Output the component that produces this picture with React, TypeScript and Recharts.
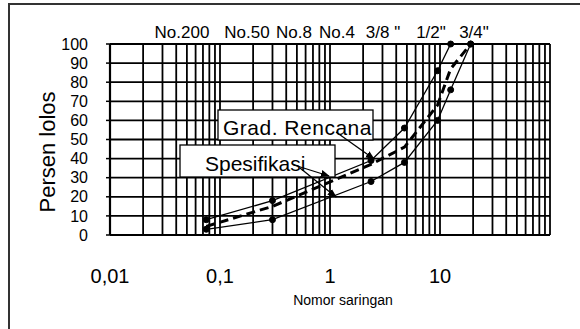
import { LineChart, Line, XAxis, YAxis, CartesianGrid } from 'recharts';

// sieve opening (mm) on a log axis
const sieveSize = [0.075, 0.3, 2.36, 4.75, 9.5, 12.5, 19];
const specUpper = [8, 18, 39, 56, 86, 100, 100];
const specLower = [3, 8, 28, 38, 60, 76, 100];
const gradRencana = [4.5, 15, 37, 46, 68, 87, 100];

const xTicks = [0.01, 0.1, 1, 10];
const yTicks = [0, 10, 20, 30, 40, 50, 60, 70, 80, 90, 100];
const sieveLabels = ['No.200', 'No.50', 'No.8', 'No.4', '3/8 "', '1/2"', '3/4"'];

// minor log grid: 1..9 in every decade, plus the last one
const gridX: number[] = [];
[0.01, 0.1, 1, 10].forEach((d) => {
  for (let k = 1; k <= 9; k++) gridX.push(+(d * k).toPrecision(3));
});
gridX.push(100);

const data = sieveSize.map((s, i) => ({
  size: s,
  upper: specUpper[i],
  lower: specLower[i],
  plan: gradRencana[i],
}));

const font = '"Liberation Sans", Arial, sans-serif';
const sieveLabelX = [182, 247, 294, 337, 383, 431, 474];

function Overlay() {
  return (
    <svg width={580} height={329} style={{ position: 'absolute', left: 0, top: 0, pointerEvents: 'none' }} fontFamily={font}>
      <defs>
        <marker id="arr" viewBox="0 0 10 10" refX="9" refY="5" markerWidth="7" markerHeight="7" orient="auto">
          <path d="M0,1 L10,5 L0,9 z" fill="#000" />
        </marker>
      </defs>
      {sieveLabels.map((t, i) => (
        <text key={t} x={sieveLabelX[i]} y={38} fontSize={17} textAnchor="middle" fill="#000">{t}</text>
      ))}
      <text transform="translate(55,152) rotate(-90)" fontSize={22} textAnchor="middle" fill="#000">Persen lolos</text>
      <text x={343} y={305} fontSize={14} textAnchor="middle" fill="#000">Nomor saringan</text>

      <rect x={218} y={110} width={155} height={30} fill="#fff" stroke="#000" strokeWidth={1.3} />
      <text x={223} y={135} fontSize={21} letterSpacing={0.5} fill="#000">Grad. Rencana</text>
      <line x1={336} y1={132} x2={374} y2={159} stroke="#000" strokeWidth={1.3} markerEnd="url(#arr)" />

      <rect x={180} y={145} width={155} height={32} fill="#fff" stroke="#000" strokeWidth={1.3} />
      <text x={205} y={171} fontSize={21} fill="#000">Spesifikasi</text>
      <line x1={294} y1={165} x2={329} y2={176} stroke="#000" strokeWidth={1.3} markerEnd="url(#arr)" />
      <line x1={300} y1={168} x2={336} y2={197} stroke="#000" strokeWidth={1.3} markerEnd="url(#arr)" />
    </svg>
  );
}

export default function App() {
  const dot = { r: 3, fill: '#000', stroke: '#000', strokeWidth: 1 };
  return (
    <div style={{ position: 'fixed', left: 0, top: 0, width: 580, height: 329, overflow: 'hidden', background: '#fff', fontFamily: font }}>
      <div style={{ position: 'absolute', left: 8, top: 3, width: 620, height: 400, border: '2px solid #333' }} />
      <div style={{ position: 'absolute', left: 0, top: 0 }}>
        <LineChart width={580} height={329} data={data} margin={{ top: 44, right: 30, bottom: 64, left: 50 }}>
          <CartesianGrid xAxisId="grid" stroke="#000" strokeWidth={1.8} />
          <XAxis
            dataKey="size"
            type="number"
            scale="log"
            domain={[0.01, 100]}
            ticks={xTicks}
            interval={0}
            height={30}
            tickSize={0}
            tickMargin={34}
            tickFormatter={(v: number) => String(v).replace('.', ',')}
            tick={{ fill: '#000', fontSize: 20, fontFamily: font }}
            axisLine={{ stroke: '#000', strokeWidth: 2.2 }}
            allowDataOverflow
          />
          <XAxis
            xAxisId="grid"
            dataKey="size"
            type="number"
            scale="log"
            domain={[0.01, 100]}
            ticks={gridX}
            interval={0}
            hide
            allowDataOverflow
          />
          <YAxis
            type="number"
            domain={[0, 100]}
            ticks={yTicks}
            interval={0}
            width={60}
            tickSize={4}
            tickMargin={18}
            tick={{ fill: '#000', fontSize: 16, fontFamily: font }}
            tickLine={{ stroke: '#000', strokeWidth: 1.5 }}
            axisLine={{ stroke: '#000', strokeWidth: 2.2 }}
          />
          <Line type="linear" dataKey="upper" stroke="#000" strokeWidth={1.3} dot={dot} isAnimationActive={false} />
          <Line type="linear" dataKey="lower" stroke="#000" strokeWidth={1.3} dot={dot} isAnimationActive={false} />
          <Line type="linear" dataKey="plan" stroke="#000" strokeWidth={3} strokeDasharray="9 5" dot={false} isAnimationActive={false} />
        </LineChart>
      </div>
      <Overlay />
    </div>
  );
}
